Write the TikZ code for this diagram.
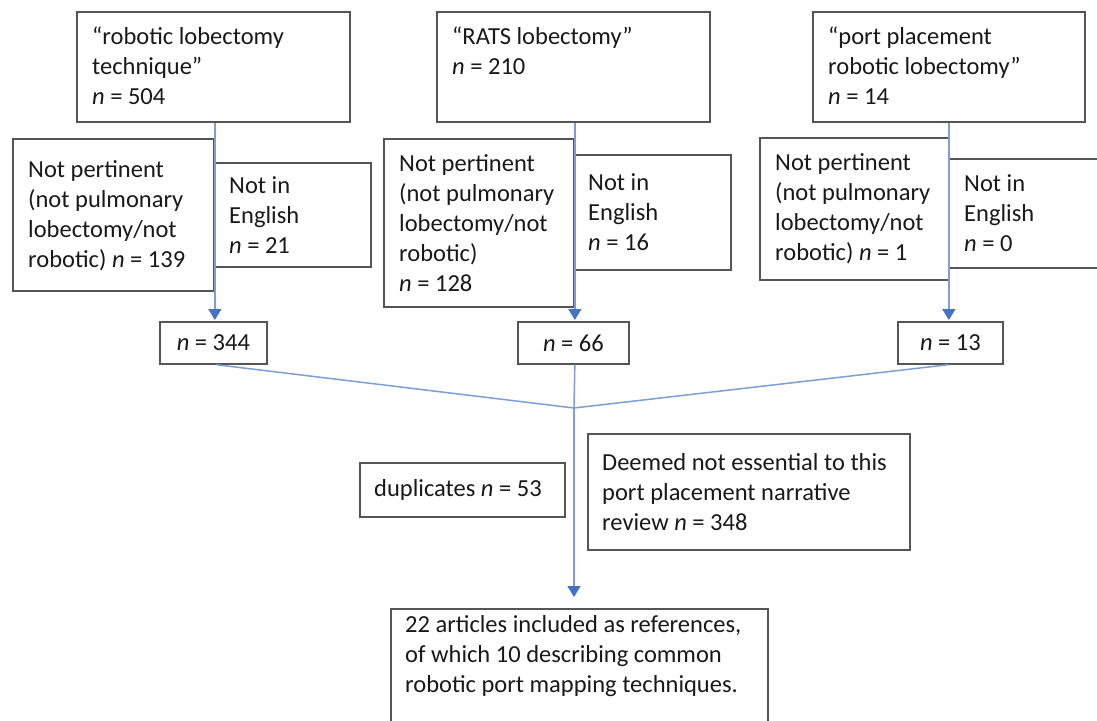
\documentclass[tikz,border=0pt]{standalone}
\usepackage{fontspec}
\setmainfont{Carlito}
\usetikzlibrary{arrows.meta,calc}
\definecolor{connc}{RGB}{68,114,196}
\definecolor{linec}{RGB}{125,158,218}
\definecolor{framec}{RGB}{85,85,85}
\begin{document}
\begin{tikzpicture}[x=1pt,y=-1pt,
  box/.style={draw=framec, line width=1.7pt, anchor=north west, inner sep=0pt},
  txt/.style={font=\fontsize{24.5}{30}\selectfont, align=left, inner sep=0pt, text=black!90},
  conn/.style={draw=linec, line width=1.5pt},
  arr/.style={conn, -{Triangle[width=13pt,length=11pt,color=connc]}}]
\useasboundingbox (0,0) rectangle (1097,720);
\fill[white] (0,0) rectangle (1097,720);
% boxes
\node[box, minimum width=273pt, minimum height=110pt] (a1) at (76,11) {};
\node[box, minimum width=273pt, minimum height=110pt] (a2) at (436,11) {};
\node[box, minimum width=272pt, minimum height=110pt] (a3) at (812,11) {};
\node[box, minimum width=201pt, minimum height=152pt] (np1) at (12,138) {};
\node[box, minimum width=157pt, minimum height=104pt] (ne1) at (213,162) {};
\node[box, minimum width=190pt, minimum height=168pt] (np2) at (383,138) {};
\node[box, minimum width=157pt, minimum height=115pt] (ne2) at (573,154) {};
\node[box, minimum width=189pt, minimum height=142pt] (np3) at (759,137) {};
\node[box, minimum width=160pt, minimum height=109pt] (ne3) at (948,158) {};
\node[box, minimum width=107pt, minimum height=42pt] (n1) at (159,321) {};
\node[box, minimum width=111pt, minimum height=42pt] (n2) at (517,321) {};
\node[box, minimum width=105pt, minimum height=42pt] (n3) at (897,321) {};
\node[box, minimum width=205pt, minimum height=54pt] (dup) at (359,462) {};
\node[box, minimum width=322pt, minimum height=116pt] (deem) at (587,433) {};
\node[box, minimum width=377pt, minimum height=130pt] (fin) at (390,608) {};
% texts
\node[txt, anchor=north west] (ta1) at ($(a1.north west)+(16,16)$) {“robotic lobectomy\\technique”\\\textit{n} = 504};
\node[txt, anchor=north west] (ta2) at ($(a2.north west)+(16,16)$) {“RATS lobectomy”\\\textit{n} = 210};
\node[txt, anchor=north west] (ta3) at ($(a3.north west)+(16,16)$) {“port placement\\robotic lobectomy”\\\textit{n} = 14};
\node[txt, anchor=west] (tnp1) at ($(np1.west)+(16,1)$) {Not pertinent\\(not pulmonary\\lobectomy/not\\robotic) \textit{n} = 139};
\node[txt, anchor=west] (tne1) at ($(ne1.west)+(16,0)$) {Not in\\English\\\textit{n} = 21};
\node[txt, anchor=west] (tnp2) at ($(np2.west)+(16,0)$) {Not pertinent\\(not pulmonary\\lobectomy/not\\robotic)\\\textit{n} = 128};
\node[txt, anchor=west] (tne2) at ($(ne2.west)+(15,0)$) {Not in\\English\\\textit{n} = 16};
\node[txt, anchor=west] (tnp3) at ($(np3.west)+(16,0)$) {Not pertinent\\(not pulmonary\\lobectomy/not\\robotic) \textit{n} = 1};
\node[txt, anchor=west] (tne3) at ($(ne3.west)+(16,0)$) {Not in\\English\\\textit{n} = 0};
\node[txt] (tn1) at (n1.center) {\textit{n} = 344};
\node[txt] (tn2) at (n2.center) {\textit{n} = 66};
\node[txt] (tn3) at (n3.center) {\textit{n} = 13};
\node[txt, anchor=west] (tdup) at ($(dup.west)+(15,0)$) {duplicates \textit{n} = 53};
\node[txt, anchor=west] (tdeem) at ($(deem.west)+(15,0)$) {Deemed not essential to this\\port placement narrative\\review \textit{n} = 348};
\node[txt, anchor=north west] (tfin) at ($(fin.north west)+(15,7)$) {22 articles included as references,\\of which 10 describing common\\robotic port mapping techniques.};
% connectors
\coordinate (m) at (574,408);
\draw[arr] ($(a1.south)+(1.5,0)$) -- ($(a1.south |- n1.north)+(1.5,-1)$);
\draw[arr] ($(a2.south)+(1.5,0)$) -- ($(a2.south |- n2.north)+(1.5,-1)$);
\draw[arr] (a3.south) -- ($(a3.south |- n3.north)+(0,-1)$);
\draw[conn] ($(n1.south)+(3,0)$) -- (m);
\draw[conn] ($(n2.south)+(1.5,0)$) -- (m);
\draw[conn] ($(n3.south)+(-2,0)$) -- (m);
\draw[arr] (m) -- ($(m |- fin.north)+(0,-11)$);
\end{tikzpicture}
\end{document}
